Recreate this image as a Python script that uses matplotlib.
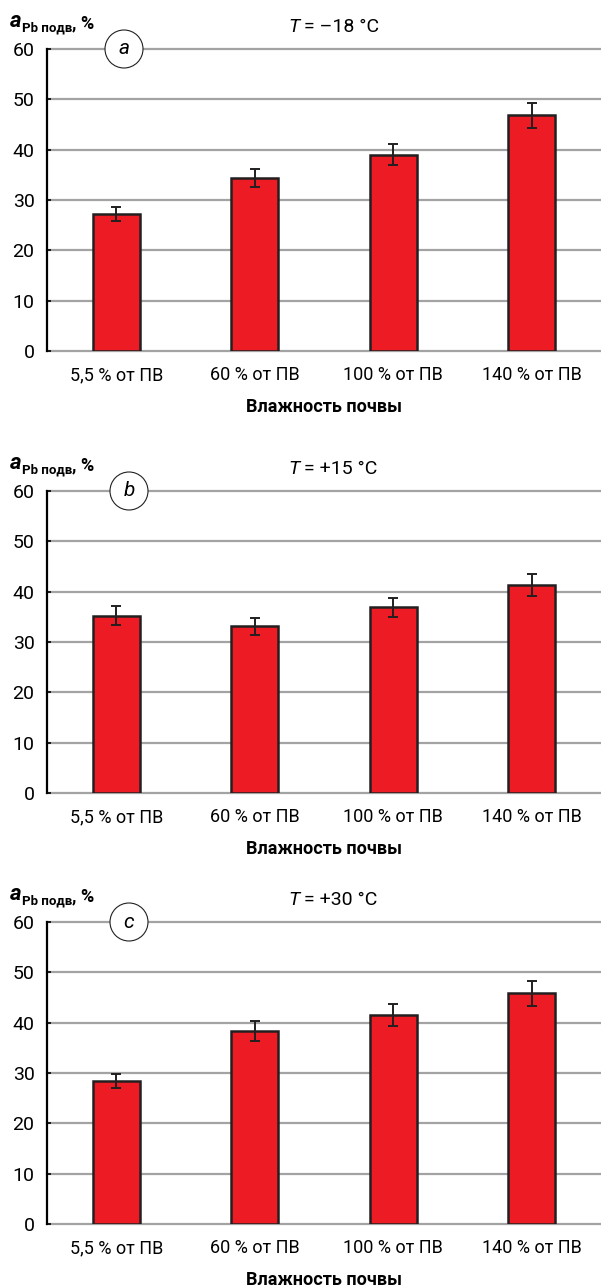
import matplotlib
matplotlib.use("Agg")
import matplotlib.pyplot as plt
from matplotlib.patches import Ellipse

plt.rcParams['font.family'] = ['Roboto', 'DejaVu Sans']

# данные
categories = ['5,5 % от ПВ', '60 % от ПВ', '100 % от ПВ', '140 % от ПВ']
temps = ['–18 °C', '+15 °C', '+30 °C']
letters = ['a', 'b', 'c']

vals_a = [27.2, 34.4, 39.0, 46.8]
err_a = [1.4, 1.8, 2.1, 2.5]
vals_b = [35.2, 33.1, 36.9, 41.4]
err_b = [1.9, 1.7, 1.9, 2.2]
vals_c = [28.5, 38.3, 41.5, 45.8]
err_c = [1.4, 2.0, 2.2, 2.45]

yticks = [0, 10, 20, 30, 40, 50, 60]

W, H = 601, 1288
fig = plt.figure(figsize=(W / 100, H / 100), dpi=100)

# пиксели: верх (60) и низ (0) каждой панели
panel_px = [(49, 351), (491, 793), (922, 1224)]
circle_px = [124, 129, 129]
left_px = 47

RED = '#ed1c24'
DARK = '#231f20'
GRID = '#a3a3a3'

for i, (vals, errs) in enumerate([(vals_a, err_a), (vals_b, err_b), (vals_c, err_c)]):
    top, bot = panel_px[i]
    ax = fig.add_axes([left_px / W, 1 - bot / H, (W - left_px) / W, (bot - top) / H])
    x = list(range(len(categories)))
    ax.bar(x, vals, width=0.34, color=RED, edgecolor=DARK, linewidth=1.8,
           yerr=errs, error_kw=dict(ecolor=DARK, elinewidth=1.4, capsize=3.5, capthick=1.4),
           zorder=3)
    ax.set_xlim(-0.5, 3.5)
    ax.set_ylim(0, 60)
    for y in yticks:
        ax.axhline(y, color=GRID, linewidth=1.6, zorder=1, clip_on=False)
    ax.set_yticks(yticks)
    ax.set_xticks(x, categories)
    for s in ['top', 'right', 'bottom']:
        ax.spines[s].set_visible(False)
    ax.spines['left'].set_linewidth(1.6)
    ax.spines['left'].set_color('black')
    ax.spines['left'].set_zorder(4)
    ax.tick_params(axis='y', direction='in', length=3, width=1.2, pad=9, labelsize=14)
    ax.tick_params(axis='x', length=0, pad=11, labelsize=13)
    ax.set_xlabel('Влажность почвы', fontsize=13, fontweight='bold', labelpad=10)

    # кружок с буквой
    cx = circle_px[i]
    cy = H - top
    fig.add_artist(Ellipse((cx / W, cy / H), 38 / W, 38 / H, transform=fig.transFigure,
                           facecolor='white', edgecolor=DARK, linewidth=0.8, zorder=5))
    fig.text(cx / W, cy / H, letters[i], fontsize=15, style='italic',
             ha='center', va='center', zorder=6)

    # подпись оси y
    t1 = fig.text(10 / W, (H - (top - 17)) / H, 'a', fontsize=16, fontweight='bold',
                  style='italic', va='bottom')
    a2 = ax.annotate('Pb подв', xy=(1, 0), xycoords=t1, xytext=(0.3, -1.5),
                     textcoords='offset points', fontsize=9.5, fontweight='bold',
                     va='bottom', annotation_clip=False)
    ax.annotate(', %', xy=(1, 0), xycoords=a2, xytext=(-0.5, 1.5),
                textcoords='offset points', fontsize=13, fontweight='bold',
                va='bottom', annotation_clip=False)

    # температура
    tb = fig.text(288 / W, (H - (top - 13)) / H, 'T', fontsize=14, style='italic', va='bottom')
    ax.annotate(' = ' + temps[i], xy=(1, 0), xycoords=tb, xytext=(0, 0),
                textcoords='offset points', fontsize=14, va='bottom', annotation_clip=False)

fig.savefig('out.png', dpi=100)
